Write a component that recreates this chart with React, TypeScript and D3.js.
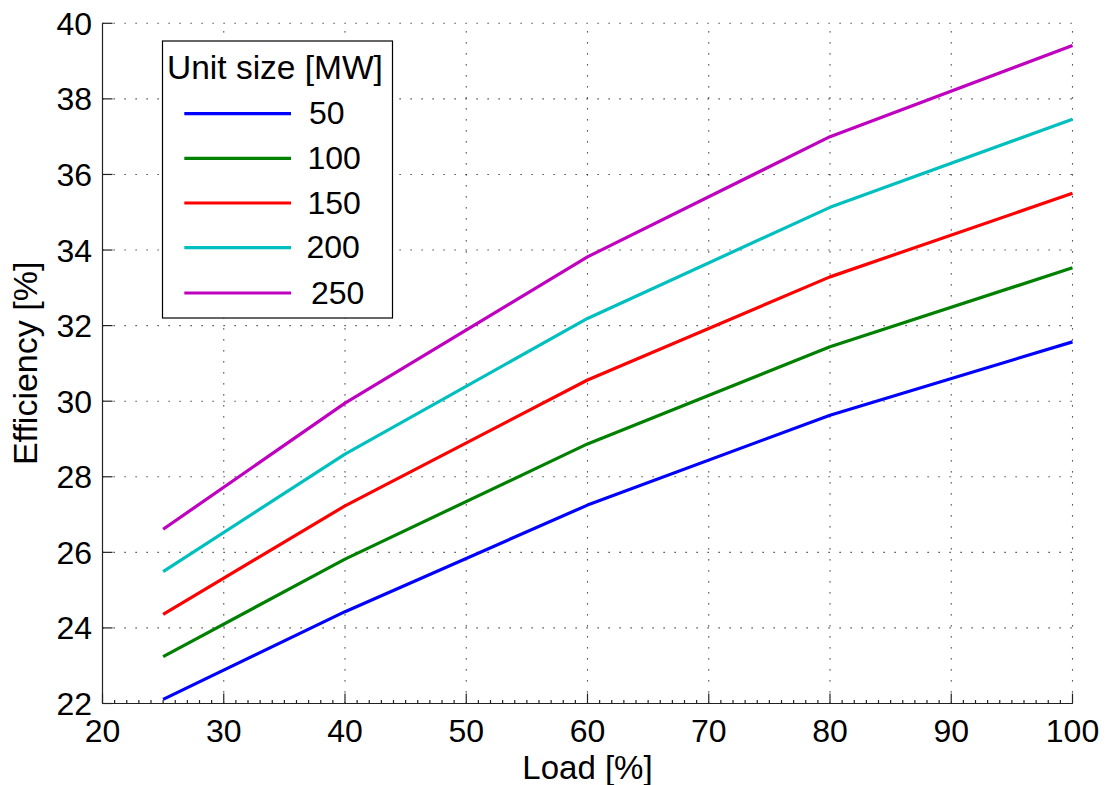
import React, { useEffect, useRef } from "react";
import * as d3 from "d3";

const loads = [25, 40, 60, 80, 100];
const unitSizes = ["50", "100", "150", "200", "250"];
const eff50 = [22.11, 24.43, 27.25, 29.63, 31.57];
const eff100 = [23.24, 25.82, 28.87, 31.44, 33.53];
const eff150 = [24.36, 27.23, 30.56, 33.29, 35.5];
const eff200 = [25.49, 28.6, 32.19, 35.13, 37.46];
const eff250 = [26.61, 29.95, 33.82, 37.0, 39.41];
const seriesValues = [eff50, eff100, eff150, eff200, eff250];
const colors = ["#0000ff", "#008000", "#ff0000", "#00bfbf", "#bf00bf"];
const xTicks = [20, 30, 40, 50, 60, 70, 80, 90, 100];
const yTicks = [22, 24, 26, 28, 30, 32, 34, 36, 38, 40];
const xMinorTicks = d3.range(20, 101, 1);

export default function App() {
  const ref = useRef<SVGSVGElement | null>(null);

  useEffect(() => {
    const svg = d3.select(ref.current);
    svg.selectAll("*").remove();
    const font = "'Liberation Sans', Arial, Helvetica, sans-serif";
    const x = d3.scaleLinear().domain([20, 100]).range([102.5, 1072.5]);
    const y = d3.scaleLinear().domain([22, 40]).range([703.5, 23.3]);

    svg.append("rect").attr("width", 1106).attr("height", 785).attr("fill", "#fff");

    // grid
    const grid = svg.append("g").attr("stroke", "#222").attr("stroke-width", 1.1).attr("stroke-dasharray", "1.2 9.8");
    xTicks.filter((t) => t > 20).forEach((t) => {
      grid.append("line").attr("x1", x(t)).attr("x2", x(t)).attr("y1", y(22)).attr("y2", y(40));
    });
    yTicks.filter((t) => t > 22).forEach((t) => {
      grid.append("line").attr("x1", x(20)).attr("x2", x(100)).attr("y1", y(t)).attr("y2", y(t));
    });

    // axes
    const ax = svg.append("g").attr("stroke", "#222").attr("stroke-width", 1.2);
    ax.append("line").attr("x1", x(20)).attr("x2", x(20)).attr("y1", y(22)).attr("y2", y(40));
    ax.append("line").attr("x1", x(20)).attr("x2", x(100)).attr("y1", y(22)).attr("y2", y(22));
    xMinorTicks.forEach((t) => {
      const major = t % 10 === 0;
      ax.append("line").attr("x1", x(t)).attr("x2", x(t)).attr("y1", y(22)).attr("y2", y(22) - (major ? 10 : 3.5));
    });
    yTicks.forEach((t) => {
      ax.append("line").attr("x1", x(20)).attr("x2", x(20) + 10).attr("y1", y(t)).attr("y2", y(t));
    });

    // tick labels
    xTicks.forEach((t) => {
      svg.append("text").attr("x", x(t)).attr("y", 742).attr("text-anchor", "middle")
        .attr("font-family", font).attr("font-size", 32).attr("fill", "#000").text(String(t));
    });
    yTicks.forEach((t) => {
      svg.append("text").attr("x", 92).attr("y", y(t) + 11.5).attr("text-anchor", "end")
        .attr("font-family", font).attr("font-size", 32).attr("fill", "#000").text(String(t));
    });

    // axis labels
    svg.append("text").attr("x", (x(20) + x(100)) / 2).attr("y", 779).attr("text-anchor", "middle")
      .attr("font-family", font).attr("font-size", 33).attr("fill", "#000").text("Load [%]");
    svg.append("text").attr("transform", `translate(37,${(y(22) + y(40)) / 2}) rotate(-90)`).attr("text-anchor", "middle")
      .attr("font-family", font).attr("font-size", 34).attr("fill", "#000").text("Efficiency [%]");

    // lines
    const line = d3.line<number>().x((_, i) => x(loads[i])).y((d) => y(d));
    seriesValues.forEach((vals, k) => {
      svg.append("path").attr("d", line(vals) as string).attr("fill", "none")
        .attr("stroke", colors[k]).attr("stroke-width", 3.2).attr("stroke-linejoin", "round");
    });

    // legend
    const lg = svg.append("g");
    lg.append("rect").attr("x", 162.5).attr("y", 41).attr("width", 230).attr("height", 277)
      .attr("fill", "#fff").attr("stroke", "#000").attr("stroke-width", 1.2);
    lg.append("text").attr("x", 167).attr("y", 79).attr("font-family", font).attr("font-size", 33.5)
      .attr("fill", "#000").text("Unit size [MW]");
    const rowY = [113.7, 158.3, 203, 247.7, 293];
    const labelX = [309, 307.5, 307.5, 306.5, 311];
    unitSizes.forEach((s, k) => {
      lg.append("line").attr("x1", 184.3).attr("x2", 291).attr("y1", rowY[k]).attr("y2", rowY[k])
        .attr("stroke", colors[k]).attr("stroke-width", 3.2);
      lg.append("text").attr("x", labelX[k]).attr("y", rowY[k] + 10.5).attr("font-family", font)
        .attr("font-size", 32).attr("fill", "#000").text(s);
    });
  }, []);

  return (
    <svg
      ref={ref}
      width={1106}
      height={785}
      style={{ position: "absolute", left: 0, top: 0, display: "block" }}
    />
  );
}
